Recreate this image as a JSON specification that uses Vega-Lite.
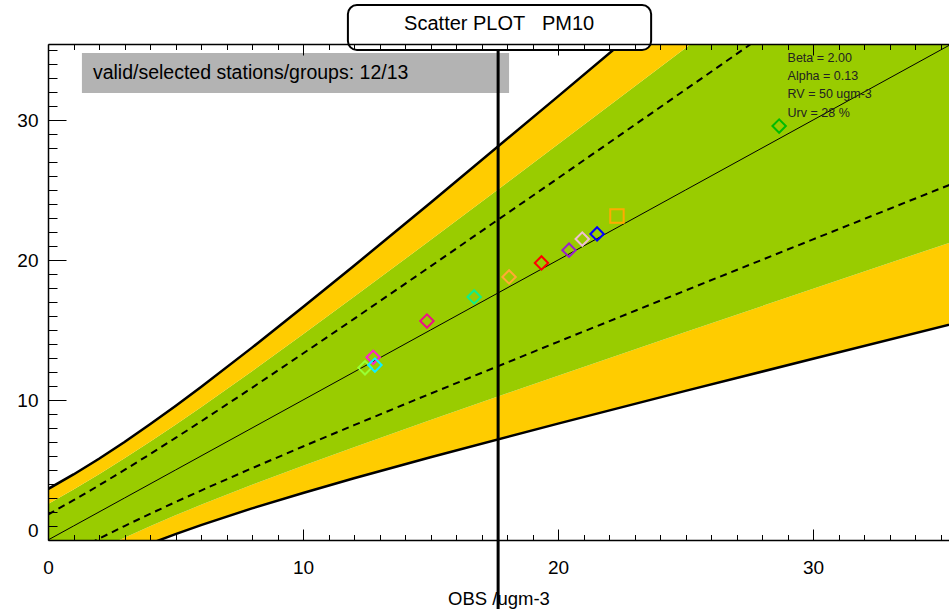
{
  "$schema": "https://vega.github.io/schema/vega-lite/v6.json",
  "width": 901,
  "height": 496,
  "autosize": {"type": "none"},
  "padding": {"left": 48, "top": 44, "right": 0, "bottom": 69},
  "background": "white",
  "config": {
    "view": {"stroke": null},
    "font": "Liberation Sans",
    "axis": {"grid": false, "domainColor": "black", "domainWidth": 1.5, "tickColor": "black", "tickWidth": 1, "labelColor": "black", "titleColor": "black", "labelFont": "Liberation Sans", "titleFont": "Liberation Sans"}
  },
  "datasets": {
    "bands": [
      {"O": 0, "up2": 3.64, "up14": 2.574, "up1": 1.82, "lo1": -1.82, "lo14": -2.574, "lo2": -3.64},
      {"O": 1, "up2": 4.682, "up14": 3.603, "up1": 2.841, "lo1": -0.841, "lo14": -1.603, "lo2": -2.682},
      {"O": 2, "up2": 5.806, "up14": 4.691, "up1": 3.903, "lo1": 0.097, "lo14": -0.691, "lo2": -1.806},
      {"O": 3, "up2": 7.004, "up14": 5.831, "up1": 5.002, "lo1": 0.998, "lo14": 0.169, "lo2": -1.004},
      {"O": 4, "up2": 8.264, "up14": 7.015, "up1": 6.132, "lo1": 1.868, "lo14": 0.985, "lo2": -0.264},
      {"O": 5, "up2": 9.578, "up14": 8.237, "up1": 7.289, "lo1": 2.711, "lo14": 1.763, "lo2": 0.422},
      {"O": 6, "up2": 10.934, "up14": 9.488, "up1": 8.467, "lo1": 3.533, "lo14": 2.512, "lo2": 1.066},
      {"O": 8, "up2": 13.742, "up14": 12.06, "up1": 10.871, "lo1": 5.129, "lo14": 3.94, "lo2": 2.258},
      {"O": 10, "up2": 16.64, "up14": 14.694, "up1": 13.32, "lo1": 6.68, "lo14": 5.306, "lo2": 3.36},
      {"O": 12, "up2": 19.592, "up14": 17.368, "up1": 15.796, "lo1": 8.204, "lo14": 6.632, "lo2": 4.408},
      {"O": 15, "up2": 24.09, "up14": 21.427, "up1": 19.545, "lo1": 10.455, "lo14": 8.573, "lo2": 5.91},
      {"O": 20, "up2": 31.686, "up14": 28.262, "up1": 25.843, "lo1": 14.157, "lo14": 11.738, "lo2": 8.314},
      {"O": 25, "up2": 39.35, "up14": 35.145, "up1": 32.175, "lo1": 17.825, "lo14": 14.855, "lo2": 10.65},
      {"O": 30, "up2": 47.05, "up14": 42.054, "up1": 38.525, "lo1": 21.475, "lo14": 17.946, "lo2": 12.95},
      {"O": 36, "up2": 56.318, "up14": 50.365, "up1": 46.159, "lo1": 25.841, "lo14": 21.635, "lo2": 15.682}
    ],
    "stations": [
      {"station": "S1", "obs": 12.75, "mod": 13.05},
      {"station": "S2", "obs": 12.43, "mod": 12.3},
      {"station": "S3", "obs": 12.82, "mod": 12.5},
      {"station": "S4", "obs": 14.86, "mod": 15.64},
      {"station": "S5", "obs": 16.71, "mod": 17.36},
      {"station": "S6", "obs": 18.08, "mod": 18.79},
      {"station": "S7", "obs": 19.35, "mod": 19.79},
      {"station": "S8", "obs": 20.43, "mod": 20.7},
      {"station": "S9", "obs": 20.95, "mod": 21.5},
      {"station": "S10", "obs": 21.53, "mod": 21.86},
      {"station": "S11", "obs": 22.31, "mod": 23.14},
      {"station": "S12", "obs": 28.67, "mod": 29.57}
    ]
  },
  "resolve": {"axis": {"x": "independent", "y": "independent"}},
  "layer": [
    {
      "data": {"name": "bands"},
      "mark": {"type": "area", "clip": true, "color": "#ffcc00"},
      "encoding": {
        "x": {"field": "O", "type": "quantitative", "scale": {"domain": [0, 35.33], "nice": false, "zero": false},
          "axis": {"orient": "bottom", "values": [0,1,2,3,4,5,6,7,8,9,10,11,12,13,14,15,16,17,18,19,20,21,22,23,24,25,26,27,28,29,30,31,32,33,34,35],
            "labelExpr": "datum.value % 10 === 0 ? datum.label : ''",
            "tickSize": {"condition": {"test": "datum.value % 10 === 0", "value": -11}, "value": -5.5},
            "labelFontSize": 19, "labelPadding": 29, "labelFlush": false,
            "title": "OBS /ugm-3", "titleFontSize": 18.5, "titleFontWeight": "normal", "titlePadding": 12, "zindex": 1}},
        "y": {"field": "lo2", "type": "quantitative", "scale": {"domain": [0, 35.43], "nice": false, "zero": false},
          "axis": {"orient": "left", "values": [0,1,2,3,4,5,6,7,8,9,10,11,12,13,14,15,16,17,18,19,20,21,22,23,24,25,26,27,28,29,30,31,32,33,34,35],
            "labelExpr": "datum.value % 10 === 0 ? datum.label : ''",
            "tickSize": {"condition": {"test": "datum.value % 10 === 0", "value": -18}, "value": -9},
            "labelFontSize": 19, "labelPadding": 28, "labelFlush": true, "labelFlushOffset": 0, "title": "", "zindex": 1}},
        "y2": {"field": "lo14"}
      }
    },
    {
      "data": {"name": "bands"},
      "mark": {"type": "area", "clip": true, "color": "#99cc00"},
      "encoding": {
        "x": {"field": "O", "type": "quantitative", "axis": null},
        "y": {"field": "lo14", "type": "quantitative", "axis": null},
        "y2": {"field": "up14"}
      }
    },
    {
      "data": {"name": "bands"},
      "mark": {"type": "area", "clip": true, "color": "#ffcc00"},
      "encoding": {
        "x": {"field": "O", "type": "quantitative", "axis": null},
        "y": {"field": "up14", "type": "quantitative", "axis": null},
        "y2": {"field": "up2"}
      }
    },
    {
      "data": {"name": "bands"},
      "mark": {"type": "line", "clip": true, "color": "black", "strokeWidth": 2.5},
      "encoding": {
        "x": {"field": "O", "type": "quantitative", "axis": null},
        "y": {"field": "up2", "type": "quantitative", "axis": null}
      }
    },
    {
      "data": {"name": "bands"},
      "mark": {"type": "line", "clip": true, "color": "black", "strokeWidth": 2.5},
      "encoding": {
        "x": {"field": "O", "type": "quantitative", "axis": null},
        "y": {"field": "lo2", "type": "quantitative", "axis": null}
      }
    },
    {
      "data": {"name": "bands"},
      "mark": {"type": "line", "clip": true, "color": "black", "strokeWidth": 2, "strokeDash": [7, 5]},
      "encoding": {
        "x": {"field": "O", "type": "quantitative", "axis": null},
        "y": {"field": "up1", "type": "quantitative", "axis": null}
      }
    },
    {
      "data": {"name": "bands"},
      "mark": {"type": "line", "clip": true, "color": "black", "strokeWidth": 2, "strokeDash": [7, 5]},
      "encoding": {
        "x": {"field": "O", "type": "quantitative", "axis": null},
        "y": {"field": "lo1", "type": "quantitative", "axis": null}
      }
    },
    {
      "data": {"name": "bands"},
      "mark": {"type": "line", "clip": true, "color": "black", "strokeWidth": 1},
      "encoding": {
        "x": {"field": "O", "type": "quantitative",
          "axis": {"orient": "top", "values": [0,1,2,3,4,5,6,7,8,9,10,11,12,13,14,15,16,17,18,19,20,21,22,23,24,25,26,27,28,29,30,31,32,33,34,35],
            "labels": false, "title": null,
            "tickSize": {"condition": {"test": "datum.value % 10 === 0", "value": -11}, "value": -5.5}, "zindex": 1}},
        "y": {"field": "O", "type": "quantitative", "axis": null}
      }
    },
    {
      "data": {"name": "stations"},
      "mark": {"type": "point", "filled": false, "strokeWidth": 2, "opacity": 1, "clip": true},
      "encoding": {
        "x": {"field": "obs", "type": "quantitative", "axis": null},
        "y": {"field": "mod", "type": "quantitative", "axis": null},
        "color": {"field": "station", "type": "nominal", "legend": null,
          "scale": {"domain": ["S1","S2","S3","S4","S5","S6","S7","S8","S9","S10","S11","S12"],
            "range": ["#ff22cc","#99ff33","#11eeff","#ee1188","#11ee88","#ffaa33","#ff0000","#9922cc","#f0c0d4","#0000ff","#ffaa00","#00bb00"]}},
        "shape": {"field": "station", "type": "nominal", "legend": null,
          "scale": {"domain": ["S1","S2","S3","S4","S5","S6","S7","S8","S9","S10","S11","S12"],
            "range": ["diamond","diamond","diamond","diamond","diamond","diamond","diamond","diamond","diamond","diamond","square","diamond"]}},
        "size": {"field": "station", "type": "nominal", "legend": null,
          "scale": {"domain": ["S1","S2","S3","S4","S5","S6","S7","S8","S9","S10","S11","S12"],
            "range": [180,180,180,180,180,180,180,180,180,180,125,180]}}
      }
    },
    {
      "data": {"values": [{}]},
      "mark": {"type": "rect", "color": "#b3b3b3"},
      "encoding": {
        "x": {"datum": 1.33, "type": "quantitative", "axis": null},
        "x2": {"datum": 18.08},
        "y": {"datum": 34.79, "type": "quantitative", "axis": null},
        "y2": {"datum": 31.93}
      }
    },
    {
      "data": {"values": [{}]},
      "mark": {"type": "text", "text": "valid/selected stations/groups: 12/13", "align": "left", "baseline": "middle", "fontSize": 19.5, "color": "black"},
      "encoding": {
        "x": {"datum": 1.76, "type": "quantitative", "axis": null},
        "y": {"datum": 33.36, "type": "quantitative", "axis": null}
      }
    },
    {
      "data": {"values": [{}]},
      "mark": {"type": "text", "text": ["Beta = 2.00", "Alpha = 0.13", "RV = 50 ugm-3", "Urv = 28 %"], "lineHeight": 18.3, "align": "left", "baseline": "middle", "fontSize": 12.5, "color": "#222222"},
      "encoding": {
        "x": {"datum": 29.0, "type": "quantitative", "axis": null},
        "y": {"datum": 34.45, "type": "quantitative", "axis": null}
      }
    },
    {
      "data": {"values": [{}]},
      "mark": {"type": "rect", "clip": false, "fill": "white", "stroke": "black", "strokeWidth": 2, "cornerRadius": 9},
      "encoding": {
        "x": {"datum": 11.76, "type": "quantitative", "axis": null},
        "x2": {"datum": 23.65},
        "y": {"datum": 38.21, "type": "quantitative", "axis": null},
        "y2": {"datum": 35.0}
      }
    },
    {
      "data": {"values": [{}]},
      "mark": {"type": "text", "clip": false, "text": "Scatter PLOT\u00a0\u00a0\u00a0PM10", "align": "center", "baseline": "middle", "fontSize": 20, "color": "black"},
      "encoding": {
        "x": {"datum": 17.69, "type": "quantitative", "axis": null},
        "y": {"datum": 36.86, "type": "quantitative", "axis": null}
      }
    },
    {
      "data": {"values": [{}]},
      "mark": {"type": "rule", "clip": false, "color": "black", "strokeWidth": 3},
      "encoding": {
        "x": {"datum": 17.65, "type": "quantitative", "axis": null},
        "y": {"datum": 35.0, "type": "quantitative", "axis": null},
        "y2": {"datum": -4.95}
      }
    }
  ]
}
